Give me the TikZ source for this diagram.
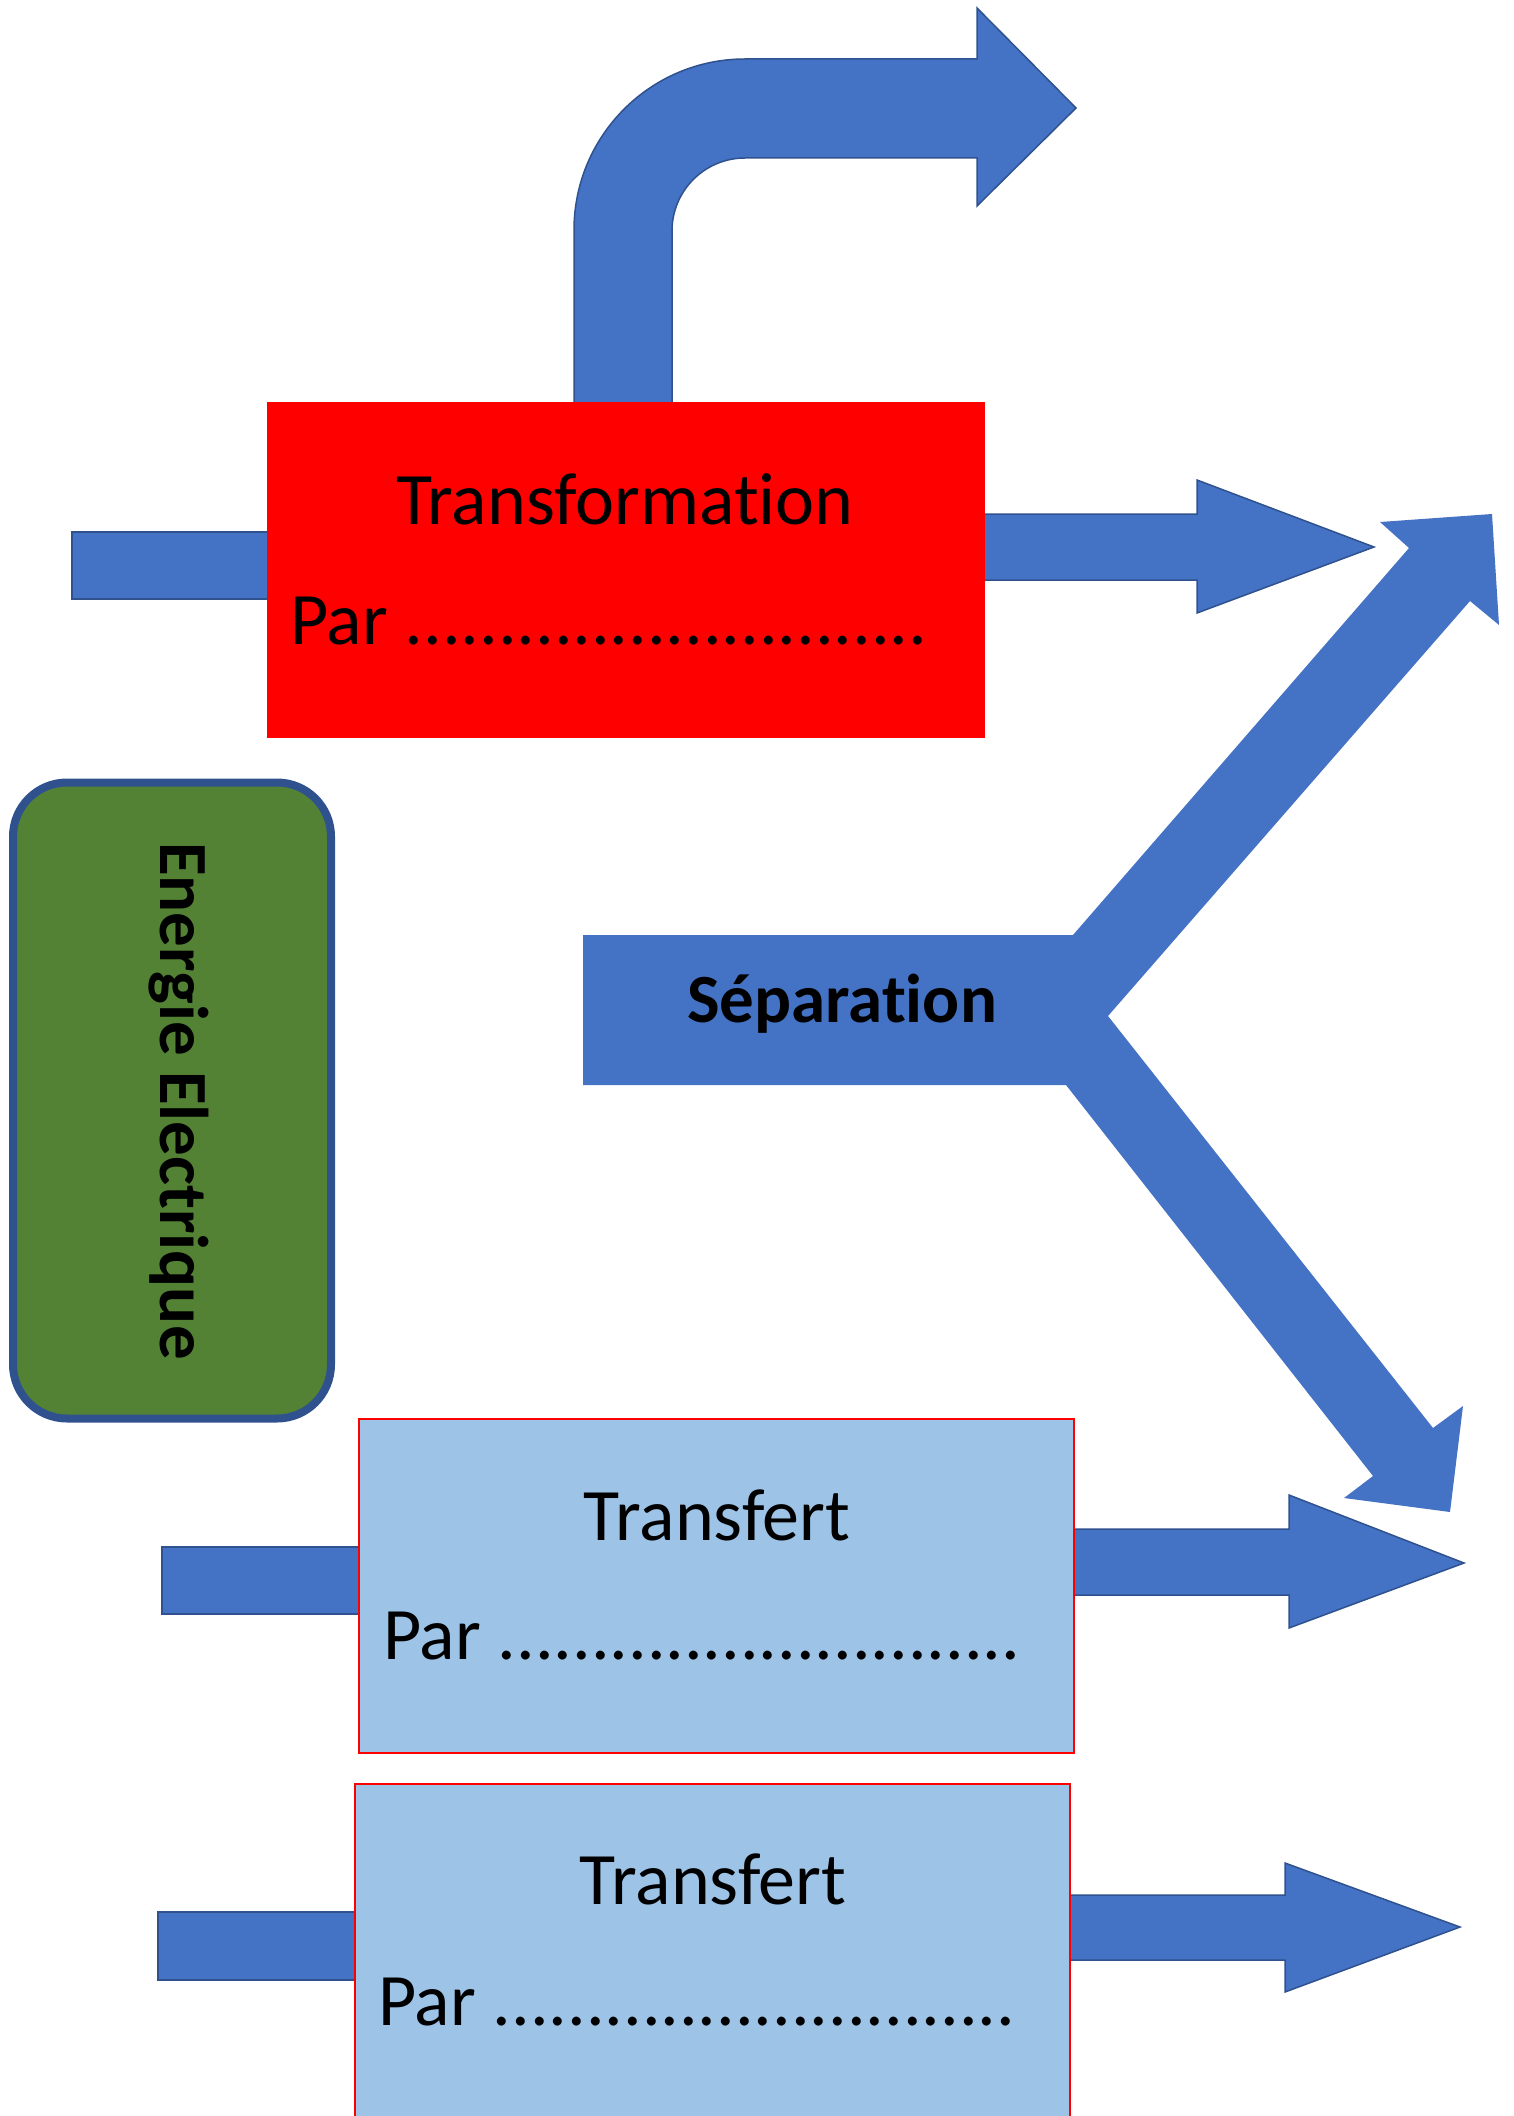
\documentclass[tikz,border=0pt]{standalone}
\usepackage{fontspec}
\setmainfont{Carlito}[Ligatures=NoCommon]
\definecolor{ablue}{HTML}{4472C4}
\definecolor{dblue}{HTML}{2F528F}
\definecolor{lblue}{HTML}{9DC3E6}
\definecolor{dgreen}{HTML}{548235}
\begin{document}
\begin{tikzpicture}[x=1pt,y=-1pt,
  arr/.style={fill=ablue, draw=dblue, line width=1.5pt, line join=miter},
  sepshape/.style={fill=ablue, draw=none},
  redbox/.style={fill=red, draw=none, minimum width=718pt, minimum height=336pt, inner sep=0pt},
  tbox/.style={fill=lblue, draw=red, line width=2pt, minimum width=715pt, inner sep=0pt},
  gbox/.style={fill=dgreen, draw=dblue, line width=8pt, rounded corners=54pt, minimum width=318pt, minimum height=636pt, inner sep=0pt},
  big/.style={font=\fontsize{74}{80}\selectfont, inner sep=0pt, anchor=base},
  par/.style={font=\fontsize{74}{80}\selectfont, inner sep=0pt, anchor=base west},
  bold/.style={font=\fontsize{69}{75}\selectfont\bfseries, inner sep=0pt, anchor=base}]
\useasboundingbox (0,0) rectangle (1513,2116);
\clip (0,0) rectangle (1513,2116);

% ---- input bars (behind boxes)
\draw[arr] (72,532) rectangle (280,599);
\draw[arr] (162,1547) rectangle (370,1614);
\draw[arr] (158,1912) rectangle (366,1980);

% ---- bent arrow from top of transformation box
\draw[arr] (574,410) -- (574,230) .. controls (574,135.6) and (650.6,59) .. (745,59)
  -- (977,59) -- (977,8) -- (1076,108) -- (977,206) -- (977,158) -- (745,158)
  .. controls (704.7,158) and (672,190.7) .. (672,231) -- (672,410) -- cycle;

% ---- output arrows
\draw[arr] (975,514) -- (1197,514) -- (1197,480) -- (1374,547) -- (1197,613) -- (1197,580) -- (975,580) -- cycle;
\draw[arr] (1064,1529) -- (1289,1529) -- (1289,1495) -- (1464,1563) -- (1289,1628) -- (1289,1595) -- (1064,1595) -- cycle;
\draw[arr] (1060,1895) -- (1285,1895) -- (1285,1863) -- (1460,1927) -- (1285,1992) -- (1285,1960) -- (1060,1960) -- cycle;

% ---- boxes
\node[redbox] (transfo) at (626,570) {};
\node[tbox, minimum height=334pt] (transf1) at (716.5,1586) {};
\node[tbox, minimum height=360pt] (transf2) at (712.5,1964) {};
\node[gbox] (energie) at (172,1100.5) {};

% ---- separation shape
\fill[sepshape] (583,935) -- (1073,935) -- (1409,548) -- (1380,522) -- (1492,514) -- (1499,625)
  -- (1470,601) -- (1108,1016) -- (1433,1428) -- (1463,1406) -- (1450,1512) -- (1344,1498)
  -- (1373,1476) -- (1066,1085) -- (583,1085) -- cycle;

% ---- texts
\node[big] (t1) at (625,524) {Transformation};
\node[par] (p1) at (290,644) {Par ............................};
\node[big] (t2) at (717,1540) {Transfert};
\node[par] (p2) at (383,1659) {Par ............................};
\node[big] (t3) at (713,1904) {Transfert};
\node[par] (p3) at (378,2025) {Par ............................};
\node[bold] (sep) at (842,1022) {Séparation};
\node[bold, rotate=-90] (etext) at (160,1101) {Energie Electrique};
\end{tikzpicture}
\end{document}
